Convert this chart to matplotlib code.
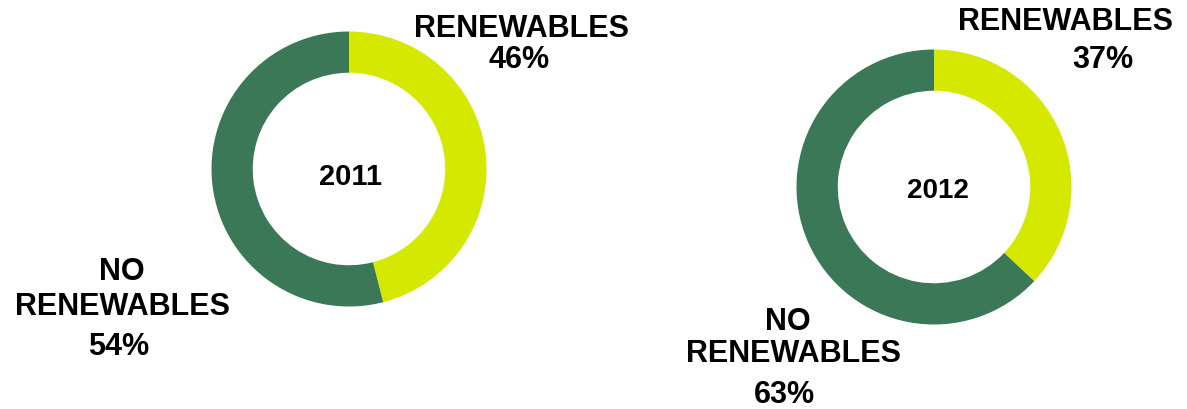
import matplotlib
matplotlib.use("Agg")
import matplotlib.pyplot as plt

# Share of renewables per year
years = ["2011", "2012"]
renewables = [46, 37]
no_renewables = [54, 63]
segment_labels = ["RENEWABLES", "NO\nRENEWABLES"]

colors = ["#d5e800", "#3b7858"]

W, H = 1187, 410
fig = plt.figure(figsize=(W / 100, H / 100), dpi=100)
fig.patch.set_facecolor("white")

font = dict(family="Liberation Sans", weight="bold", color="black")

# donut centres (px from top-left) and outer radius
centres = [(349, 170), (934, 188)]
radius_px = 137.5

for (cx, cy), year, r, nr in zip(centres, years, renewables, no_renewables):
    ax = fig.add_axes([(cx - radius_px) / W, (H - cy - radius_px) / H,
                       2 * radius_px / W, 2 * radius_px / H])
    ax.pie([r, nr], colors=colors, startangle=90, counterclock=False,
           radius=1.0, wedgeprops=dict(width=0.30, linewidth=0))
    ax.set_xlim(-1, 1)
    ax.set_ylim(-1, 1)
    ax.set_aspect("equal")
    ax.axis("off")


def put(x, y, s, size=22):
    fig.text(x / W, 1 - y / H, s, ha="center", va="baseline", fontsize=size, **font)


# 2011 labels
put(350, 185, years[0], 21)
put(521, 37, segment_labels[0])
put(519, 68, f"{renewables[0]}%")
no_lines = segment_labels[1].split("\n")
put(122, 280, no_lines[0])
put(122, 315, no_lines[1])
put(119, 355, f"{no_renewables[0]}%")

# 2012 labels
put(938, 198, years[1], 20)
put(1065, 30, segment_labels[0])
put(1103, 68, f"{renewables[1]}%")
put(788, 330, no_lines[0])
put(793, 362, no_lines[1])
put(784, 403, f"{no_renewables[1]}%")

fig.savefig("out.png", dpi=100, facecolor="white")
